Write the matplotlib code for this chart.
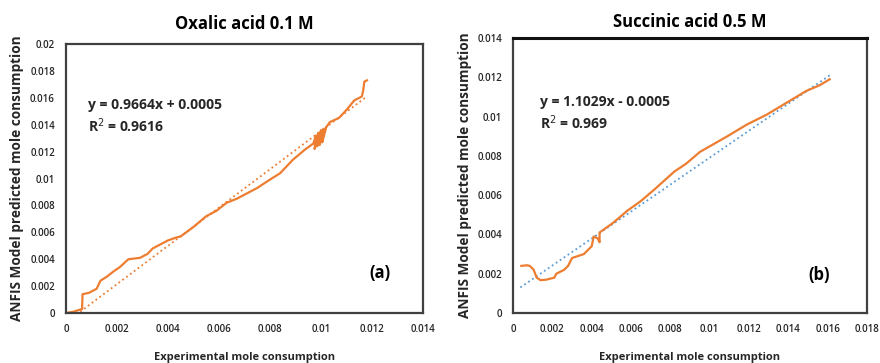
import matplotlib
matplotlib.use("Agg")
import matplotlib.pyplot as plt
from matplotlib.ticker import FuncFormatter

# panel (a): oxalic acid 0.1 M
ox_x = [0.0, 0.0003, 0.00063, 0.00065, 0.0009, 0.0012, 0.00135, 0.0016, 0.00187, 0.0021,
        0.00245, 0.0029, 0.0032, 0.0034, 0.0037, 0.004, 0.0043, 0.0045, 0.005, 0.0055,
        0.0059, 0.0063, 0.0067, 0.0071, 0.0075, 0.0079, 0.0084, 0.0089, 0.0094, 0.0097,
        0.0098, 0.00975, 0.0099, 0.00985, 0.01, 0.00995, 0.0101, 0.01005, 0.0102, 0.01035,
        0.0107, 0.011, 0.0113, 0.0116, 0.01165, 0.0117, 0.0118]
ox_y = [0.0, 0.0001, 0.0003, 0.0014, 0.0015, 0.0018, 0.0024, 0.0027, 0.0031, 0.0034,
        0.0040, 0.0041, 0.0044, 0.0048, 0.0051, 0.0054, 0.0056, 0.0057, 0.0064, 0.0072,
        0.0076, 0.0082, 0.0085, 0.0089, 0.0093, 0.0098, 0.0104, 0.0114, 0.0122, 0.0126,
        0.0132, 0.0122, 0.0134, 0.0124, 0.0136, 0.0125, 0.0137, 0.0127, 0.0138, 0.0142,
        0.0145, 0.0151, 0.0158, 0.0161, 0.0165, 0.0172, 0.0173]
ox_trend_x = [0.00056, 0.0118]
ox_trend_y = [0.0001, 0.0161]

# panel (b): succinic acid 0.5 M
su_x = [0.00042, 0.0007, 0.00085, 0.00105, 0.0012, 0.0014, 0.0017, 0.0021, 0.0022, 0.0026,
        0.0028, 0.003, 0.0036, 0.004, 0.0041, 0.0043, 0.0044, 0.0044, 0.0051, 0.0058,
        0.0065, 0.0072, 0.0082, 0.0088, 0.0095, 0.0102, 0.0109, 0.0119, 0.0129, 0.0139,
        0.0149, 0.0156, 0.0161]
su_y = [0.0024, 0.00243, 0.0024, 0.0022, 0.0018, 0.00167, 0.0017, 0.0018, 0.002, 0.0022,
        0.0024, 0.0028, 0.003, 0.0034, 0.0039, 0.0038, 0.0036, 0.0041, 0.0046, 0.0052,
        0.0057, 0.0063, 0.0072, 0.0076, 0.0082, 0.0086, 0.009, 0.0096, 0.0101, 0.0107,
        0.0113, 0.0116, 0.0119]
su_trend_x = [0.00037, 0.0161]
su_trend_y = [0.0013, 0.0121]

orange = '#ED7D31'
blue = '#5B9BD5'
plt.rcParams['font.family'] = ['Open Sans', 'DejaVu Sans']

fig = plt.figure(figsize=(8.8, 3.63), dpi=100)
ax1 = fig.add_axes([0.075, 0.1377, 0.4057, 0.741])
ax2 = fig.add_axes([0.583, 0.1377, 0.4023, 0.7576])

fmt = FuncFormatter(lambda v, p: '0' if abs(v) < 1e-12 else ('%g' % round(v, 4)))


def style(ax, xmax, ymax, step):
    ax.set_xlim(0, xmax)
    ax.set_ylim(0, ymax)
    ax.set_xticks([i * 0.002 for i in range(int(round(xmax / 0.002)) + 1)])
    ax.set_yticks([i * step for i in range(int(round(ymax / step)) + 1)])
    ax.xaxis.set_major_formatter(fmt)
    ax.yaxis.set_major_formatter(fmt)
    ax.tick_params(length=0, labelsize=7, pad=8)
    for lab in ax.get_xticklabels() + ax.get_yticklabels():
        lab.set_fontweight('semibold')
        lab.set_color('#262626')
    for s in ax.spines.values():
        s.set_color('#404040')
        s.set_linewidth(1.6)
    ax.set_xlabel('Experimental mole consumption', fontsize=8, fontweight='bold', labelpad=12,
                  color='#262626')
    ax.set_ylabel('ANFIS Model predicted mole consumption', fontsize=9.8, fontweight='bold',
                  labelpad=4, color='#262626')


ax1.plot(ox_trend_x, ox_trend_y, ':', color=orange, lw=1.3)
ax1.plot(ox_x, ox_y, '-', color=orange, lw=1.6)
style(ax1, 0.014, 0.02, 0.002)
ax1.set_title('Oxalic acid 0.1 M', fontsize=12, fontweight='bold', pad=11)
ax1.text(0.063, 0.73, 'y = 0.9664x + 0.0005\nR$^2$ = 0.9616', transform=ax1.transAxes,
         fontsize=10, fontweight='bold', color='#262626', va='center', linespacing=1.25)
ax1.text(0.85, 0.13, '(a)', transform=ax1.transAxes, fontsize=12, fontweight='bold')

ax2.plot(su_trend_x, su_trend_y, ':', color=blue, lw=1.3)
ax2.plot(su_x, su_y, '-', color=orange, lw=1.6)
style(ax2, 0.018, 0.014, 0.002)
ax2.spines['top'].set_color('#111111')
ax2.spines['top'].set_linewidth(2.2)
ax2.set_title('Succinic acid 0.5 M', fontsize=12, fontweight='bold', pad=8)
ax2.text(0.077, 0.725, 'y = 1.1029x - 0.0005\nR$^2$ = 0.969', transform=ax2.transAxes,
         fontsize=10, fontweight='bold', color='#262626', va='center', linespacing=1.25)
ax2.text(0.835, 0.12, '(b)', transform=ax2.transAxes, fontsize=12, fontweight='bold')

plt.savefig('out.png', dpi=100)
